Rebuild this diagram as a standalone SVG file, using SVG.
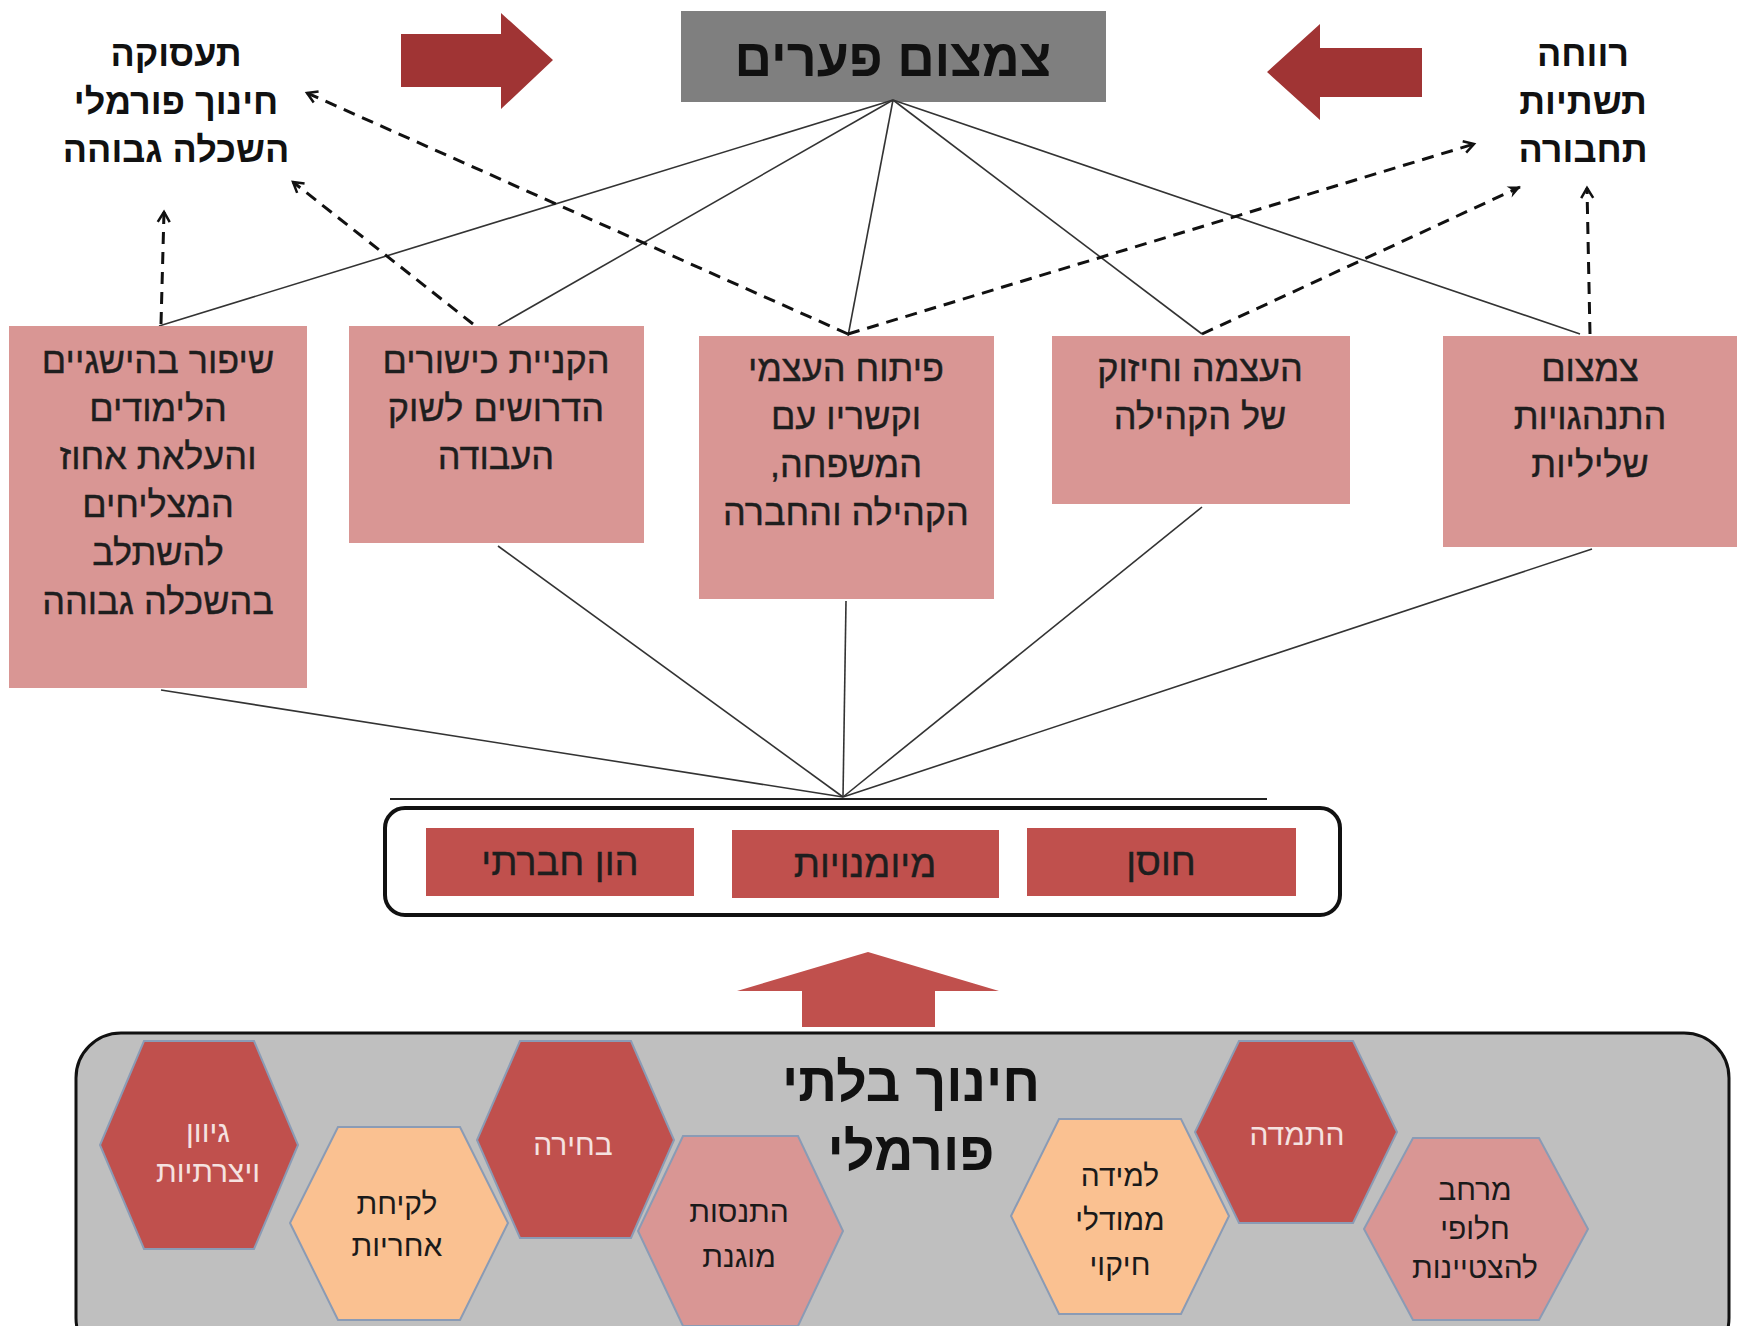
<svg xmlns="http://www.w3.org/2000/svg" width="1746" height="1326" viewBox="0 0 1746 1326">
<style>
text{font-family:"Liberation Sans","DejaVu Sans",sans-serif;direction:rtl;text-anchor:middle;dominant-baseline:central}
.bold{font-weight:bold;fill:#111}
.side{font-size:36px}
.box{fill:#d99694}
.btxt{font-size:36px;fill:#1e1e1e;stroke:#1e1e1e;stroke-width:0.4}
.red{fill:#c0504d}
.rtxt{font-size:38px;fill:#1e1e1e;stroke:#1e1e1e;stroke-width:0.4}
.hex{stroke:#8a9bb5;stroke-width:2}
.hr{fill:#c0504d}
.hp{fill:#fac191}
.hk{fill:#d99694}
.ht{font-size:30px;fill:#1a1a1a}
.hw{font-size:30px;fill:#f5e2e0}
.solid{stroke:#333;stroke-width:1.6;fill:none}
.dash{stroke:#111;stroke-width:3;stroke-dasharray:12 8;fill:none}
.bigarrow{fill:#a03434}
</style>
<defs>
<marker id="open" markerUnits="userSpaceOnUse" markerWidth="20" markerHeight="20" refX="12" refY="8" orient="auto">
<path d="M2,2 L12,8 L2,14" fill="none" stroke="#111" stroke-width="2.5"/>
</marker>
<marker id="filled" markerUnits="userSpaceOnUse" markerWidth="20" markerHeight="20" refX="13" refY="8" orient="auto">
<path d="M1,2 L14,8 L1,14 L5,8 Z" fill="#111"/>
</marker>
</defs>
<rect width="1746" height="1326" fill="#ffffff"/>

<g id="big-arrows">
<polygon class="bigarrow" points="401,34 501,34 501,13 553,60 501,109 501,87 401,87"/>
<polygon class="bigarrow" points="1422,48 1320,48 1320,24 1267,72 1320,120 1320,97 1422,97"/>
</g>

<g id="title">
<rect x="681" y="11" width="425" height="91" fill="#7f7f7f"/>
<text x="893" y="58" class="bold" style="font-size:52px">צמצום פערים</text>
</g>

<g id="left-goals">
<text x="176" y="53" class="bold side">תעסוקה</text>
<text x="176" y="101" class="bold side">חינוך פורמלי</text>
<text x="176" y="149" class="bold side">השכלה גבוהה</text>
</g>

<g id="right-goals">
<text x="1583" y="53" class="bold side">רווחה</text>
<text x="1583" y="101" class="bold side">תשתיות</text>
<text x="1583" y="149" class="bold side">תחבורה</text>
</g>

<g id="connectors">
<line class="solid" x1="893" y1="100" x2="159" y2="326"/>
<line class="solid" x1="893" y1="100" x2="498" y2="326"/>
<line class="solid" x1="893" y1="100" x2="848" y2="336"/>
<line class="solid" x1="893" y1="100" x2="1202" y2="334"/>
<line class="solid" x1="893" y1="100" x2="1580" y2="334"/>
<line class="solid" x1="161" y1="690" x2="843" y2="797"/>
<line class="solid" x1="498" y1="546" x2="843" y2="797"/>
<line class="solid" x1="846" y1="601" x2="843" y2="797"/>
<line class="solid" x1="1202" y1="507" x2="843" y2="797"/>
<line class="solid" x1="1592" y1="549" x2="843" y2="797"/>
<line x1="390" y1="799" x2="1267" y2="799" stroke="#222" stroke-width="2"/>
<line class="dash" x1="161" y1="324" x2="164" y2="212" marker-end="url(#open)"/>
<line class="dash" x1="473" y1="324" x2="293" y2="182" marker-end="url(#open)"/>
<line class="dash" x1="848" y1="334" x2="307" y2="93" marker-end="url(#open)"/>
<line class="dash" x1="848" y1="334" x2="1474" y2="144" marker-end="url(#open)"/>
<line class="dash" x1="1202" y1="334" x2="1520" y2="187" marker-end="url(#filled)"/>
<line class="dash" x1="1590" y1="334" x2="1587" y2="188" marker-end="url(#open)"/>
</g>

<g id="box1">
<rect class="box" x="9" y="326" width="298" height="362"/>
<text class="btxt" x="158" y="360">שיפור בהישגיים</text>
<text class="btxt" x="158" y="408">הלימודים</text>
<text class="btxt" x="158" y="456">והעלאת אחוז</text>
<text class="btxt" x="158" y="504">המצליחים</text>
<text class="btxt" x="158" y="552">להשתלב</text>
<text class="btxt" x="158" y="601">בהשכלה גבוהה</text>
</g>
<g id="box2">
<rect class="box" x="349" y="326" width="295" height="217"/>
<text class="btxt" x="496" y="360">הקניית כישורים</text>
<text class="btxt" x="496" y="408">הדרושים לשוק</text>
<text class="btxt" x="496" y="456">העבודה</text>
</g>
<g id="box3">
<rect class="box" x="699" y="336" width="295" height="263"/>
<text class="btxt" x="846" y="368">פיתוח העצמי</text>
<text class="btxt" x="846" y="416">וקשריו עם</text>
<text class="btxt" x="846" y="464">המשפחה,</text>
<text class="btxt" x="846" y="512">הקהילה והחברה</text>
</g>
<g id="box4">
<rect class="box" x="1052" y="336" width="298" height="168"/>
<text class="btxt" x="1200" y="368">העצמה וחיזוק</text>
<text class="btxt" x="1200" y="416">של הקהילה</text>
</g>
<g id="box5">
<rect class="box" x="1443" y="336" width="294" height="211"/>
<text class="btxt" x="1590" y="368">צמצום</text>
<text class="btxt" x="1590" y="416">התנהגויות</text>
<text class="btxt" x="1590" y="464">שליליות</text>
</g>

<g id="capitals">
<rect x="385" y="808" width="955" height="107" rx="20" fill="#fff" stroke="#111" stroke-width="4"/>
<rect class="red" x="426" y="828" width="268" height="68"/>
<text class="rtxt" x="560" y="862">הון חברתי</text>
<rect class="red" x="732" y="830" width="267" height="68"/>
<text class="rtxt" x="865" y="864">מיומנויות</text>
<rect class="red" x="1027" y="828" width="269" height="68"/>
<text class="rtxt" x="1161" y="862">חוסן</text>
</g>

<g id="up-arrow">
<polygon class="red" points="868,952 999,991 935,991 935,1027 802,1027 802,991 737,991"/>
</g>

<g id="nonformal">
<rect x="76" y="1033" width="1653" height="330" rx="45" fill="#bfbfbf" stroke="#111" stroke-width="3"/>
<text x="911" y="1082" class="bold" style="font-size:54px">חינוך בלתי</text>
<text x="911" y="1151" class="bold" style="font-size:54px">פורמלי</text>
</g>

<g id="hex1">
<polygon class="hex hr" points="144,1041 254,1041 298,1145 254,1249 144,1249 100,1145"/>
<text class="hw" x="208" y="1131">גיוון</text>
<text class="hw" x="208" y="1171">ויצרתיות</text>
</g>
<g id="hex2">
<polygon class="hex hp" points="338,1127 460,1127 508,1223 460,1320 338,1320 290,1223"/>
<text class="ht" x="397" y="1203">לקיחת</text>
<text class="ht" x="397" y="1245">אחריות</text>
</g>
<g id="hex3">
<polygon class="hex hr" points="520,1041 631,1041 674,1140 631,1238 520,1238 477,1140"/>
<text class="hw" x="573" y="1144">בחירה</text>
</g>
<g id="hex4">
<polygon class="hex hk" points="683,1136 798,1136 843,1231 798,1326 683,1326 638,1231"/>
<text class="ht" x="739" y="1211">התנסות</text>
<text class="ht" x="739" y="1256">מוגנת</text>
</g>
<g id="hex5">
<polygon class="hex hp" points="1059,1119 1181,1119 1229,1216 1181,1314 1059,1314 1011,1216"/>
<text class="ht" x="1120" y="1175">למידה</text>
<text class="ht" x="1120" y="1219">ממודלי</text>
<text class="ht" x="1120" y="1264">חיקוי</text>
</g>
<g id="hex6">
<polygon class="hex hr" points="1239,1041 1353,1041 1397,1132 1353,1223 1239,1223 1195,1132"/>
<text class="hw" x="1297" y="1134">התמדה</text>
</g>
<g id="hex7">
<polygon class="hex hk" points="1413,1138 1539,1138 1588,1229 1539,1320 1413,1320 1364,1229"/>
<text class="ht" x="1475" y="1189">מרחב</text>
<text class="ht" x="1475" y="1228">חלופי</text>
<text class="ht" x="1475" y="1267">להצטיינות</text>
</g>
</svg>
